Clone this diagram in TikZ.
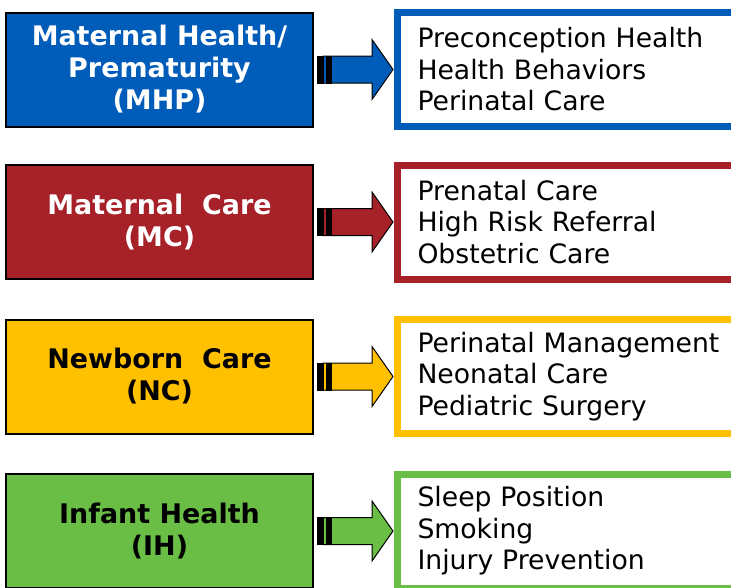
\documentclass[tikz,border=0pt]{standalone}
\usepackage{fontspec}
\setmainfont{DejaVu Sans}
\usetikzlibrary{calc}
\usetikzlibrary{positioning}
\definecolor{mhpblue}{RGB}{0, 92, 185}
\definecolor{mcred}{RGB}{167, 33, 41}
\definecolor{ncyellow}{RGB}{255, 192, 0}
\definecolor{ihgreen}{RGB}{106, 189, 69}

\tikzset{
  areabox/.style={draw=black, line width=1.5pt, minimum width=230.25pt, minimum height=85.5pt,
                  align=center, font=\bfseries\fontsize{20.2}{24}\selectfont},
  listbox/.style={draw=#1, line width=5.25pt, anchor=west, text width=232.5pt, inner xsep=15pt,
                  minimum height=85.5pt, align=left, font=\fontsize{20}{23.6}\selectfont},
  arrowline/.style={draw=black, line width=0.75pt, line join=miter}
}

% striped arrow: from box #1 to box #2, filled with #3
\newcommand{\stripearrow}[3]{%
  \path ($(#1.east)+(3,0)$) coordinate (t) ($(#2.west |- #1.east)+(-1,0)$) coordinate (h);
  \filldraw[arrowline, fill=#3] ($(t)+(6,-13.5)$) -- ($(h)+(-21,-13.5)$) -- ($(h)+(-21,-30)$) -- (h)
       -- ($(h)+(-21,30)$) -- ($(h)+(-21,13.5)$) -- ($(t)+(6,13.5)$) -- cycle;
  \filldraw[arrowline, fill=black] ($(t)+(0,-13.5)$)  rectangle ($(t)+(6,13.5)$);
  \filldraw[arrowline, fill=black] ($(t)+(9.5,-13.5)$) rectangle ($(t)+(14.5,13.5)$);
}

\begin{document}
\begin{tikzpicture}[x=0.75pt, y=-0.75pt]
  \useasboundingbox (0,0) rectangle (731,587);
  \clip (0,0) rectangle (731,587);

  % area boxes
  \node[areabox, fill=mhpblue,  text=white] (mhp) at (159.5, 69.5) {Maternal Health/\\Prematurity\\(MHP)};
  \node[areabox, fill=mcred,    text=white] (mc)  at (159.5,222.0) {Maternal~~Care\\(MC)};
  \node[areabox, fill=ncyellow, text=black] (nc)  at (159.5,376.5) {Newborn~~Care\\(NC)};
  \node[areabox, fill=ihgreen,  text=black] (ih)  at (159.5,531.0) {Infant Health\\(IH)};

  % topic lists
  \node[listbox=mhpblue,  right=60pt of mhp] (mhpList) {Preconception Health\\Health Behaviors\\Perinatal Care};
  \node[listbox=mcred,    right=60pt of mc]  (mcList)  {Prenatal Care\\High Risk Referral\\Obstetric Care};
  \node[listbox=ncyellow, right=60pt of nc]  (ncList)  {Perinatal Management\\Neonatal Care\\Pediatric Surgery};
  \node[listbox=ihgreen,  right=60pt of ih]  (ihList)  {Sleep Position\\Smoking\\Injury Prevention};

  \stripearrow{mhp}{mhpList}{mhpblue}
  \stripearrow{mc}{mcList}{mcred}
  \stripearrow{nc}{ncList}{ncyellow}
  \stripearrow{ih}{ihList}{ihgreen}
\end{tikzpicture}
\end{document}
